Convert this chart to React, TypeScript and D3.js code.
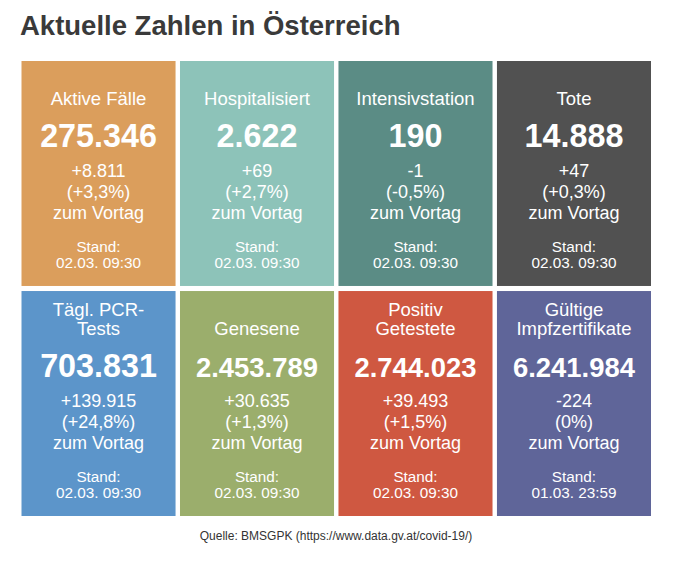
import React from "react";
import * as d3 from "d3";

const titles: string[][] = [
  ["Aktive Fälle"],
  ["Hospitalisiert"],
  ["Intensivstation"],
  ["Tote"],
  ["Tägl. PCR-", "Tests"],
  ["Genesene"],
  ["Positiv", "Getestete"],
  ["Gültige", "Impfzertifikate"],
];
const values: number[] = [275346, 2622, 190, 14888, 703831, 2453789, 2744023, 6241984];
const changes: number[] = [8811, 69, -1, 47, 139915, 30635, 39493, -224];
const percents: string[] = ["+3,3%", "+2,7%", "-0,5%", "+0,3%", "+24,8%", "+1,3%", "+1,5%", "0%"];
const stands: string[] = [
  "02.03. 09:30",
  "02.03. 09:30",
  "02.03. 09:30",
  "02.03. 09:30",
  "02.03. 09:30",
  "02.03. 09:30",
  "02.03. 09:30",
  "01.03. 23:59",
];
const colors: string[] = ["#db9e5c", "#8dc3b9", "#5b8c85", "#515151", "#5c95ca", "#9bae6c", "#cf5841", "#5f6599"];

const W = 680;
const H = 561;
const FONT = "'Liberation Sans', Arial, Helvetica, sans-serif";

const locale = d3.formatLocale({ decimal: ",", thousands: ".", grouping: [3], currency: ["", "€"] });
const fmt = locale.format(",d");
const fmtSigned = (v: number) => (v > 0 ? "+" : v < 0 ? "-" : "") + fmt(Math.abs(v));

// approximate em width of a bold number string (digits 0.556em, dots 0.278em)
const emWidth = (s: string) => s.split("").reduce((a, ch) => a + (ch === "." ? 0.278 : 0.556), 0);

export default function App() {
  const cols = [0, 1, 2, 3];
  const rows = [0, 1];
  const x = d3.scaleBand<number>().domain(cols).range([21.5, 651]).paddingInner(0.028);
  const y = d3.scaleBand<number>().domain(rows).range([61, 516]).paddingInner(0.022);

  return (
    <svg
      width={W}
      height={H}
      style={{ position: "absolute", left: 0, top: 0, background: "#fff" }}
      fontFamily={FONT}
    >
      <rect x={0} y={0} width={W} height={H} fill="#fff" />
      <text x={20} y={35} fontSize={27.5} fontWeight="bold" fill="#3a3a3a">
        Aktuelle Zahlen in Österreich
      </text>
      {values.map((v, i) => {
        const c = i % 4;
        const r = Math.floor(i / 4);
        const tx = x(c)!;
        const ty = y(r)!;
        const bw = x.bandwidth();
        const bh = y.bandwidth();
        const cx = tx + bw / 2;
        const tl = titles[i];
        const label = fmt(v);
        const bigSize = Math.min(32.3, (bw - 32) / emWidth(label));
        return (
          <g key={i}>
            <rect x={tx} y={ty} width={bw} height={bh} fill={colors[i]} />
            <g fill="#fff" textAnchor="middle">
              {tl.map((t, k) => (
                <text key={k} x={cx} y={ty + 44 - (tl.length - 1 - k) * 19.5} fontSize={18.5}>
                  {t}
                </text>
              ))}
              <text x={cx} y={ty + 85.7} fontSize={bigSize} fontWeight="bold">
                {label}
              </text>
              <text x={cx} y={ty + 116} fontSize={18}>
                {fmtSigned(changes[i])}
              </text>
              <text x={cx} y={ty + 137} fontSize={18}>
                ({percents[i]})
              </text>
              <text x={cx} y={ty + 157.5} fontSize={18}>
                zum Vortag
              </text>
              <text x={cx} y={ty + 190.5} fontSize={15.3}>
                Stand:
              </text>
              <text x={cx} y={ty + 207} fontSize={15.3}>
                {stands[i]}
              </text>
            </g>
          </g>
        );
      })}
      <text x={336} y={540} fontSize={12} textAnchor="middle" fill="#333">
        Quelle: BMSGPK (https://www.data.gv.at/covid-19/)
      </text>
    </svg>
  );
}
